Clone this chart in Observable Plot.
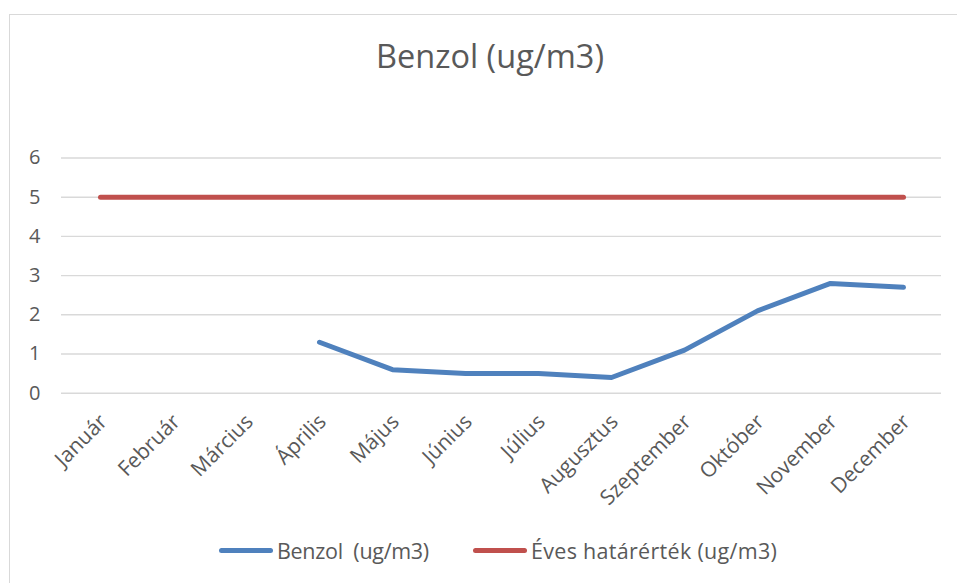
<!DOCTYPE html>
<html>
<head>
<meta charset="utf-8">
<script src="https://cdn.jsdelivr.net/npm/d3@7"></script>
<script src="https://cdn.jsdelivr.net/npm/@observablehq/plot@0.6"></script>
<style>
  html, body { margin: 0; padding: 0; background: #fff; width: 957px; height: 583px; overflow: hidden; }
  #frame { position: absolute; left: 9px; top: 14px; width: 980px; height: 620px; border: 1.5px solid #d9d9d9; box-sizing: border-box; }
  #title { position: absolute; left: 0; width: 980px; top: 33px; text-align: center; font-family: "Open Sans", sans-serif; font-size: 32.5px; color: #595959; }
  #chart { position: absolute; left: 0; top: 0; }
  .leg { position: absolute; top: 536px; font-family: "Open Sans", sans-serif; font-size: 21.5px; color: #595959; display: flex; align-items: center; white-space: pre; }
  .sw { display: inline-block; width: 54px; height: 5px; border-radius: 3px; margin-right: 4px; }
</style>
</head>
<body>
<div id="frame"></div>
<div id="title">Benzol (ug/m3)</div>
<div id="chart"></div>
<div class="leg" style="left:219px"><span class="sw" style="background:#4f81bd"></span><span style="letter-spacing:-0.3px">Benzol  (ug/m3)</span></div>
<div class="leg" style="left:473px"><span class="sw" style="background:#c0504d"></span><span style="letter-spacing:0.3px">Éves határérték (ug/m3)</span></div>
<script>
const months = ["Január","Február","Március","Április","Május","Június","Július","Augusztus","Szeptember","Október","November","December"];
const benzol = [null,null,null,1.3,0.6,0.5,0.5,0.4,1.1,2.1,2.8,2.7];
const limit = [5,5,5,5,5,5,5,5,5,5,5,5];
const yTicks = [0,1,2,3,4,5,6];

const rows = months.map((m, i) => ({month: m, benzol: benzol[i], limit: limit[i]}));

const chart = Plot.plot({
  width: 957,
  height: 583,
  marginLeft: 61,
  marginRight: 16,
  marginTop: 157.5,
  marginBottom: 190.3,
  x: {type: "point", domain: months, padding: 0.5},
  y: {domain: [0, 6]},
  style: {fontFamily: "'Open Sans', sans-serif", fontSize: "20px", color: "#595959", background: "transparent", overflow: "visible"},
  marks: [
    Plot.ruleY(yTicks, {stroke: "#d9d9d9", strokeWidth: 1.4}),
    Plot.axisY({ticks: yTicks, tickFormat: d3.format("d"), tickSize: 0, tickPadding: 21, fontSize: 20, label: null}),
    Plot.axisX({tickSize: 0, tickRotate: -45, tickPadding: 25, dx: 3, fontSize: 21, label: null}),
    Plot.line(rows, {x: "month", y: "limit", stroke: "#c0504d", strokeWidth: 5, strokeLinecap: "round"}),
    Plot.line(rows, {x: "month", y: "benzol", stroke: "#4f81bd", strokeWidth: 5, strokeLinecap: "round", strokeLinejoin: "round"})
  ]
});
document.getElementById("chart").appendChild(chart);
</script>
</body>
</html>
